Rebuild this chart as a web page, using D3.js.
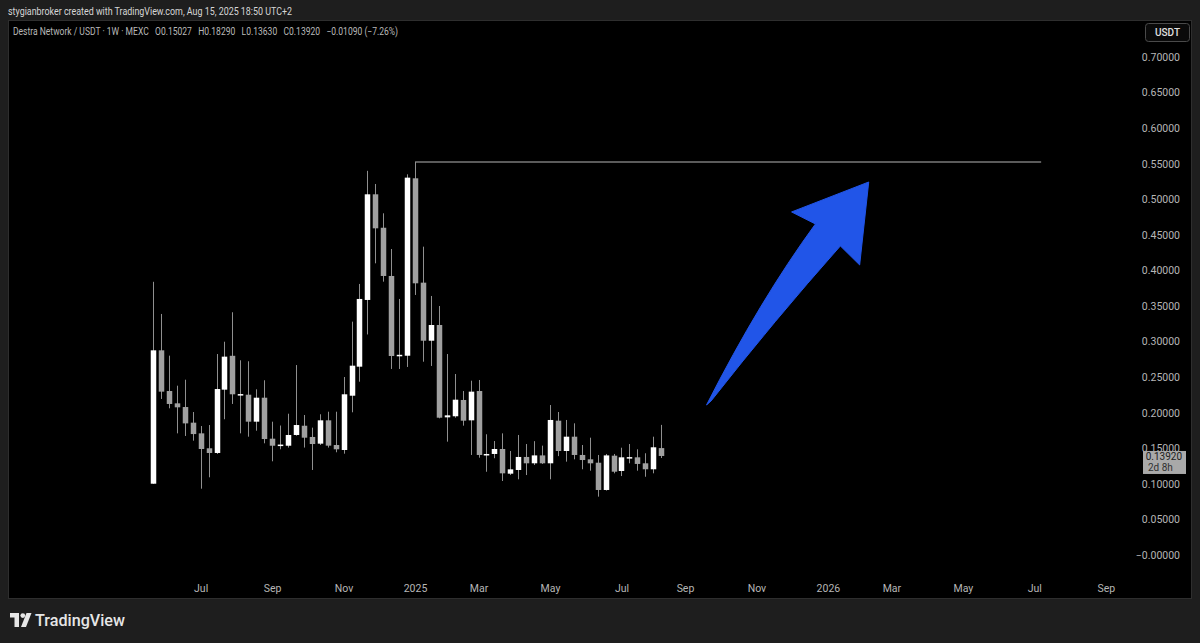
<!DOCTYPE html>
<html>
<head>
<meta charset="utf-8">
<script src="https://cdn.jsdelivr.net/npm/d3@7"></script>
<style>
  html, body { margin: 0; padding: 0; background: #1e1e1e; }
  svg { display: block; }
</style>
</head>
<body>
<svg id="chart" width="1200" height="643"></svg>
<script>
// ---------- data ----------
const firstWeek = "2024-05-20"; // Monday of first weekly bar
const opens  = [0.1002,0.2877,0.2305,0.2132,0.2080,0.1860,0.1710,0.1500,0.1434,0.2324,
                0.2800,0.2258,0.2253,0.1874,0.2211,0.1635,0.1548,0.1536,0.1687,0.1817,
                0.1659,0.1565,0.1893,0.1546,0.1476,0.2239,0.2647,0.3585,0.5070,0.4600,
                0.3922,0.2800,0.2801,0.5295,0.3828,0.3012,0.3233,0.1935,0.1950,0.2179,
                0.1893,0.2305,0.1410,0.1420,0.1490,0.1143,0.1195,0.1378,0.1289,0.1400,
                0.1289,0.1888,0.1462,0.1663,0.1406,0.1345,0.1297,0.0914,0.1396,0.1181,
                0.1370,0.1373,0.1289,0.1205,0.15027];
const highs  = [0.3840,0.3388,0.2802,0.2380,0.2464,0.2010,0.1813,0.1827,0.2825,0.2998,
                0.3412,0.2737,0.2723,0.2329,0.2456,0.1874,0.1820,0.1986,0.2670,0.1968,
                0.1790,0.1978,0.2014,0.2014,0.2502,0.3280,0.3810,0.5400,0.5215,0.4803,
                0.4301,0.3599,0.5351,0.5524,0.4334,0.3641,0.3500,0.2825,0.2544,0.2305,
                0.2450,0.2460,0.1697,0.1602,0.1710,0.1462,0.1687,0.1560,0.1600,0.1537,
                0.2108,0.2010,0.1898,0.1851,0.1546,0.1649,0.1406,0.1420,0.1420,0.1508,
                0.1560,0.1486,0.1430,0.1663,0.18290];
const lows   = [0.1000,0.2193,0.2062,0.1710,0.1673,0.1607,0.0932,0.1092,0.1420,0.1908,
                0.2123,0.1710,0.1663,0.1747,0.1570,0.1317,0.1486,0.1510,0.1677,0.1510,
                0.1195,0.1546,0.1510,0.1444,0.1424,0.2006,0.2436,0.3100,0.4100,0.3842,
                0.2615,0.2615,0.2643,0.3655,0.2717,0.2657,0.1921,0.1593,0.1930,0.1818,
                0.1406,0.1368,0.1170,0.1360,0.1040,0.1124,0.1064,0.1124,0.1265,0.1280,
                0.1064,0.1390,0.1312,0.1345,0.1205,0.1185,0.0820,0.0905,0.1148,0.1110,
                0.1289,0.1185,0.1100,0.1148,0.13630];
const closes = [0.2877,0.2296,0.2123,0.2076,0.1850,0.1700,0.1490,0.1434,0.2333,0.2788,
                0.2259,0.2262,0.1874,0.2211,0.1630,0.1536,0.1552,0.1687,0.1827,0.1649,
                0.1560,0.1893,0.1537,0.1486,0.2259,0.2661,0.3599,0.5070,0.4592,0.3922,
                0.2797,0.2814,0.5304,0.3819,0.3012,0.3233,0.1930,0.1963,0.2183,0.1888,
                0.2296,0.1406,0.1420,0.1490,0.1148,0.1204,0.1378,0.1289,0.1400,0.1289,
                0.1898,0.1462,0.1663,0.1406,0.1335,0.1289,0.0914,0.1400,0.1171,0.1373,
                0.1376,0.1280,0.1205,0.1514,0.13920];

const priceTicks = [0,0.05,0.10,0.15,0.20,0.25,0.30,0.35,0.40,0.45,0.50,0.55,0.60,0.65,0.70];
const timeTickDates  = ["2024-07-01","2024-09-02","2024-11-04","2025-01-06","2025-03-03","2025-05-05",
                        "2025-07-07","2025-09-01","2025-11-03","2026-01-05","2026-03-02","2026-05-04",
                        "2026-07-06","2026-09-07"];
const timeTickLabels = ["Jul","Sep","Nov","2025","Mar","May","Jul","Sep","Nov","2026","Mar","May","Jul","Sep"];

// horizontal resistance line (from ATH bar to a future date)
const athLine = { from: "2025-01-06", to: "2026-07-12", price: 0.5524 };
// arrow annotation in (date, price) space
const arrowPts = [
  ["2025-09-20", 0.2109], ["2025-11-06", 0.3584], ["2025-12-25", 0.4653],
  ["2025-12-04", 0.4822], ["2026-02-10", 0.5243], ["2026-02-02", 0.4077],
  ["2026-01-16", 0.4344], ["2025-11-19", 0.3303], ["2025-09-24", 0.2165]
];

const headerText = "stygianbroker created with TradingView.com, Aug 15, 2025 18:50 UTC+2";
const legendText = "Destra Network / USDT · 1W · MEXC   O0.15027   H0.18290   L0.13630   C0.13920   −0.01090 (−7.26%)";
const lastPrice = 0.13920;
const countdown = "2d 8h";

// ---------- build ----------
const parse = d3.utcParse("%Y-%m-%d");
const start = parse(firstWeek);
const dates = opens.map((_, i) => d3.utcDay.offset(start, 7 * i));
const candles = dates.map((d, i) => ({ date: d, o: opens[i], h: highs[i], l: lows[i], c: closes[i] }));

const svg = d3.select("#chart");
const FONT = "Roboto, 'Liberation Sans', sans-serif";

const x = d3.scaleTime()
  .domain([start, parse("2026-09-07")])
  .range([153, 153 + 120 * 7.94]);
const y = d3.scaleLinear().domain([0, 0.70]).range([555, 57]);

// background panel
svg.append("rect").attr("x", 0).attr("y", 0).attr("width", 1200).attr("height", 643).attr("fill", "#1e1e1e");
svg.append("rect").attr("x", 8.5).attr("y", 20.5).attr("width", 1183).attr("height", 578)
  .attr("fill", "#000").attr("stroke", "#2e2e2e").attr("stroke-width", 1);

// header
svg.append("text").attr("x", 8).attr("y", 15).text(headerText)
  .attr("textLength", 284).attr("lengthAdjust", "spacingAndGlyphs")
  .attr("font-family", FONT).attr("font-size", 11).attr("fill", "#d6d6d6");
svg.append("text").attr("x", 13).attr("y", 35).text(legendText)
  .style("white-space", "pre")
  .attr("textLength", 385).attr("lengthAdjust", "spacingAndGlyphs")
  .attr("font-family", FONT).attr("font-size", 10).attr("fill", "#b8b8b8");

// price axis
const yAxis = d3.axisRight(y).tickValues(priceTicks).tickSize(0)
  .tickFormat(v => v === 0 ? "\u22120.00000" : d3.format(".5f")(v));
const gy = svg.append("g").attr("transform", "translate(1180,0)").call(yAxis);
gy.select(".domain").remove();
gy.selectAll("text").attr("text-anchor", "end").attr("x", 0).attr("dy", "0.32em")
  .attr("font-family", FONT).attr("font-size", 10.5).attr("fill", "#b6b6b6");

// time axis
const xAxis = d3.axisBottom(x).tickValues(timeTickDates.map(parse)).tickSize(0)
  .tickFormat((d, i) => timeTickLabels[i]);
const gx = svg.append("g").attr("transform", "translate(0,583)").call(xAxis);
gx.select(".domain").remove();
gx.selectAll("text").attr("y", 0).attr("dy", "0.9em")
  .attr("font-family", FONT).attr("font-size", 10.5).attr("fill", "#b6b6b6");

// USDT button
svg.append("rect").attr("x", 1145.5).attr("y", 23.5).attr("width", 44).attr("height", 18).attr("rx", 3)
  .attr("fill", "#0a0a0a").attr("stroke", "#4a4a4a");
svg.append("text").attr("x", 1167.5).attr("y", 36).attr("text-anchor", "middle").text("USDT")
  .attr("font-family", FONT).attr("font-size", 10).attr("font-weight", 500).attr("fill", "#e0e0e0");

// resistance line
svg.append("line")
  .attr("x1", x(parse(athLine.from))).attr("x2", x(parse(athLine.to)))
  .attr("y1", y(athLine.price)).attr("y2", y(athLine.price))
  .attr("stroke", "#b5b5b5").attr("stroke-width", 1.2);

// candles
const bw = 5.5;
const g = svg.append("g");
g.selectAll("line.wick").data(candles).join("line").attr("class", "wick")
  .attr("x1", d => Math.round(x(d.date)) + 0.5).attr("x2", d => Math.round(x(d.date)) + 0.5)
  .attr("y1", d => y(d.h)).attr("y2", d => y(d.l))
  .attr("stroke", "#8f8f8f").attr("stroke-width", 1);
g.selectAll("rect.body").data(candles).join("rect").attr("class", "body")
  .attr("x", d => Math.round(x(d.date)) + 0.5 - bw / 2)
  .attr("width", bw)
  .attr("y", d => y(Math.max(d.o, d.c)))
  .attr("height", d => Math.max(1.5, Math.abs(y(d.o) - y(d.c))))
  .attr("fill", d => d.c >= d.o ? "#ffffff" : "#a0a0a0");

// arrow
const ap = arrowPts.map(p => [x(parse(p[0])), y(p[1])]);
const path = d3.path();
path.moveTo(ap[0][0], ap[0][1]);
path.quadraticCurveTo(ap[1][0], ap[1][1], ap[2][0], ap[2][1]);
path.lineTo(ap[3][0], ap[3][1]);
path.lineTo(ap[4][0], ap[4][1]);
path.lineTo(ap[5][0], ap[5][1]);
path.lineTo(ap[6][0], ap[6][1]);
path.quadraticCurveTo(ap[7][0], ap[7][1], ap[8][0], ap[8][1]);
path.closePath();
svg.append("path").attr("d", path.toString()).attr("fill", "#2155e8").attr("stroke", "#2155e8")
  .attr("stroke-width", 1).attr("stroke-linejoin", "round");

// last price label
const ly = y(lastPrice);
svg.append("rect").attr("x", 1143).attr("y", ly - 5).attr("width", 43).attr("height", 23)
  .attr("fill", "#a9a9a9");
svg.append("text").attr("x", 1182).attr("y", ly + 4.5).attr("text-anchor", "end")
  .text(d3.format(".5f")(lastPrice))
  .attr("font-family", FONT).attr("font-size", 10).attr("fill", "#202020");
svg.append("text").attr("x", 1148).attr("y", ly + 15.5).text(countdown)
  .attr("font-family", FONT).attr("font-size", 10).attr("fill", "#303030");

// TradingView logo
const logo = svg.append("g").attr("fill", "#e6e6e6");
logo.append("path").attr("d", "M10,613 H19 V627 H14.5 V617.5 H10 Z");
logo.append("circle").attr("cx", 22.8).attr("cy", 615.6).attr("r", 2.4);
logo.append("path").attr("d", "M26.5,613 H31.5 L26,627 H21 Z");
svg.append("text").attr("x", 35).attr("y", 626).text("TradingView")
  .attr("textLength", 90).attr("lengthAdjust", "spacingAndGlyphs")
  .attr("font-family", FONT).attr("font-size", 17).attr("font-weight", 500).attr("fill", "#e6e6e6");
</script>
</body>
</html>
